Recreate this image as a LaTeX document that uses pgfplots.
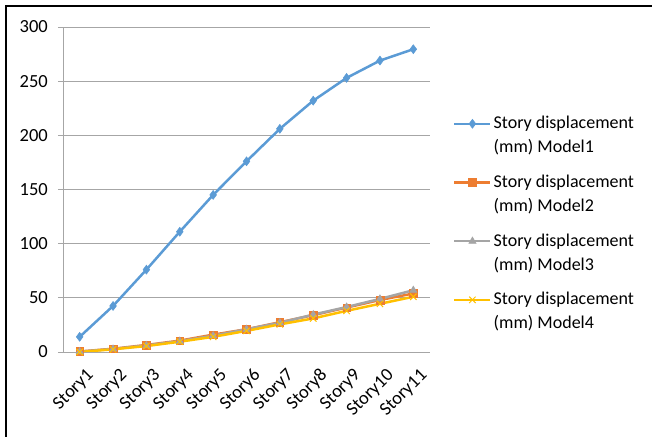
\documentclass[border=0pt]{standalone}
\usepackage{pgfplots}
\pgfplotsset{compat=1.18}
\usepackage{fontspec}
\setmainfont{Carlito}

\definecolor{m1}{HTML}{5B9BD5}
\definecolor{m2}{HTML}{ED7D31}
\definecolor{m3}{HTML}{A5A5A5}
\definecolor{m4}{HTML}{FFC000}
\definecolor{gridc}{HTML}{A6A6A6}

\newcommand{\entry}[1]{\parbox[t]{150bp}{Story displacement\\(mm) Model#1}}

\begin{document}
\fontsize{18bp}{24bp}\selectfont
\begin{tikzpicture}
\useasboundingbox (0,0) rectangle (652bp,437bp);
% frame of the scanned figure
\draw[black, line width=2bp] (6bp,0) -- (6bp,431bp) -- (652bp,431bp);

\begin{axis}[
	at={(63bp,85bp)}, anchor=origin,
	scale only axis,
	width=367bp, height=325bp,
	xmin=0.5, xmax=11.5,
	ymin=0, ymax=300,
	ytick={0,50,...,300},
	xtick={1,...,11},
	xticklabels={Story1,Story2,Story3,Story4,Story5,Story6,Story7,Story8,Story9,Story10,Story11},
	xticklabel style={rotate=45, anchor=east, font=\fontsize{18.5bp}{20bp}\selectfont, yshift=-19bp, xshift=3bp},
	yticklabel style={font=\fontsize{18.5bp}{20bp}\selectfont, xshift=-4bp},
	/pgf/number format/assume math mode=true,
	axis x line*=bottom, axis y line*=left,
	axis line style={gridc, line width=0.8bp, -},
	x axis line style={-},
	tick align=outside,
	major tick length=5bp,
	x tick style={draw=none},
	y tick style={gridc, line width=0.8bp},
	extra x ticks={0.5,1.5,...,11.5},
	extra x tick labels={},
	extra x tick style={tick style={draw=gridc, line width=0.8bp}, grid=none},
	ymajorgrids,
	grid style={gridc, line width=0.8bp},
	legend cell align=left,
	legend style={at={(1,1)}, anchor=north west, xshift=20bp, yshift=-85bp,
		draw=none, fill=none, row sep=39.5bp,
		nodes={font=\fontsize{18bp}{24bp}\selectfont}},
	legend image code/.code={\draw[#1, mark repeat=2, mark phase=2] plot coordinates {(0bp,0bp) (18bp,0bp) (36bp,0bp)};},
	every axis plot/.append style={line width=2.5bp},
]

\addplot[m1, mark=diamond*, mark size=4.5bp, mark options={line width=0.5bp}]
	coordinates {(1,14) (2,42.5) (3,76) (4,111) (5,145) (6,176) (7,206) (8,232) (9,253) (10,269) (11,279.5)};
\addplot[m2, mark=square*, mark size=3.8bp, mark options={line width=0.5bp}]
	coordinates {(1,0.5) (2,3) (3,6.5) (4,10.5) (5,16) (6,21) (7,27.5) (8,34) (9,41) (10,48) (11,54)};
\addplot[m3, mark=triangle*, mark size=4.2bp, mark options={line width=0.5bp}]
	coordinates {(1,0.3) (2,2.8) (3,6) (4,10) (5,15) (6,21) (7,27) (8,34.5) (9,41.5) (10,49) (11,57)};
\addplot[m4, mark=x, mark size=4.5bp, mark options={line width=1bp}]
	coordinates {(1,0) (2,2.5) (3,5.5) (4,9.5) (5,14) (6,19.5) (7,25.5) (8,31) (9,38) (10,44.5) (11,51)};

\legend{\entry{1}, \entry{2}, \entry{3}, \entry{4}}
\end{axis}
\end{tikzpicture}
\end{document}
